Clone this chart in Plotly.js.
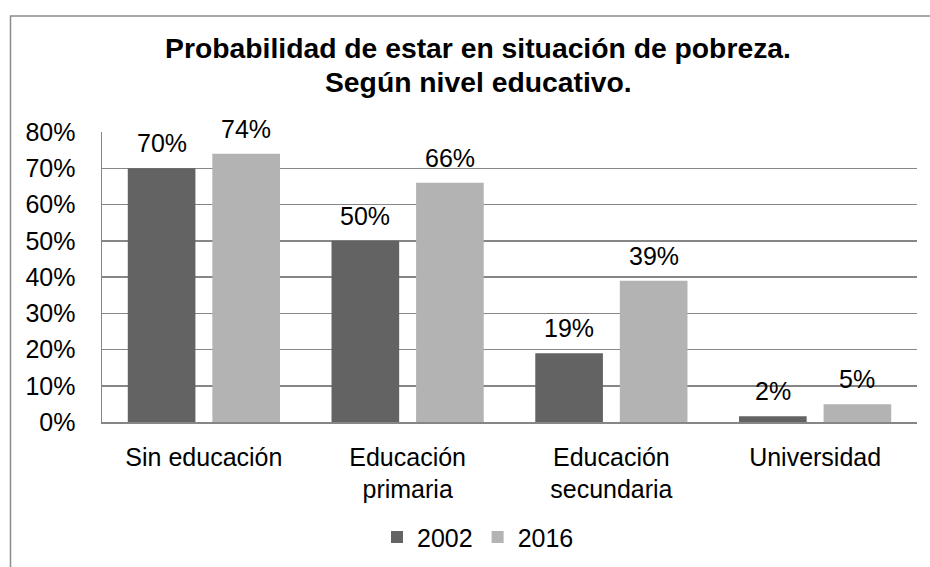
<!DOCTYPE html>
<html>
<head>
<meta charset="utf-8">
<script src="https://cdn.plot.ly/plotly-3.0.1.min.js"></script>
<style>
html,body{margin:0;padding:0;background:#fff;}
#chart{width:930px;height:567px;}
</style>
</head>
<body>
<div id="chart"></div>
<script>
const categories = ['Sin educación', 'Educación<br>primaria', 'Educación<br>secundaria', 'Universidad'];
const series2002 = [0.70, 0.50, 0.19, 0.016];
const series2016 = [0.74, 0.66, 0.39, 0.049];
const seriesNames = ['2002', '2016'];
const yTickVals = [0, 0.1, 0.2, 0.3, 0.4, 0.5, 0.6, 0.7, 0.8];
const titleLine1 = 'Probabilidad de estar en situación de pobreza.';
const titleLine2 = 'Según nivel educativo.';

const FONT = '"Liberation Sans", Arial, sans-serif';
const W = 930, H = 567;
const L = 102, R = 13, T = 131.5, B = 145.3;
const pw = W - L - R, ph = H - T - B;
const px = X => (X - L) / pw;
const py = Y => 1 + (T - Y) / ph;

const BARGAP = 0.17;
// distance between the two bar centres inside a group, in pixels
const slotPx = (pw / categories.length) * (1 - BARGAP) / 2;

const data = [
  {type: 'bar', x: categories, y: series2002, name: seriesNames[0], marker: {color: '#636363'}, hoverinfo: 'skip'},
  {type: 'bar', x: categories, y: series2016, name: seriesNames[1], marker: {color: '#b3b3b3'}, hoverinfo: 'skip'}
];

const labelAnnotations = [];
[series2002, series2016].forEach((ser, si) => {
  ser.forEach((v, i) => {
    labelAnnotations.push({
      xref: 'x', yref: 'y',
      x: categories[i], y: v,
      text: Math.round(v * 100) + '%',
      xshift: (si === 0 ? -1 : 1) * slotPx / 2,
      yshift: 9,
      xanchor: 'center', yanchor: 'bottom',
      showarrow: false,
      font: {family: FONT, size: 25, color: '#000'}
    });
  });
});

const layout = {
  width: W, height: H,
  margin: {l: L, r: R, t: T, b: B, pad: 0, autoexpand: false},
  paper_bgcolor: '#fff', plot_bgcolor: '#fff',
  font: {family: FONT, size: 25, color: '#000'},
  title: {
    text: titleLine1,
    font: {family: FONT, size: 28.3, color: '#000', weight: 'bold'},
    x: 478 / W, xanchor: 'center', xref: 'container',
    y: 1 - 48 / H, yanchor: 'middle', yref: 'container'
  },
  annotations: [{
    text: '<b>' + titleLine2 + '</b>',
    font: {family: FONT, size: 28.3, color: '#000'},
    xref: 'paper', yref: 'paper',
    x: px(478), y: py(81.5), xanchor: 'center', yanchor: 'middle',
    showarrow: false
  }].concat(labelAnnotations),
  barmode: 'group',
  bargap: BARGAP,
  bargroupgap: 0.2,
  xaxis: {
    type: 'category',
    showgrid: false,
    showline: true, linecolor: '#868686', linewidth: 1.5,
    ticks: '',
    tickfont: {family: FONT, size: 25, color: '#000'},
    ticklabelstandoff: 12,
    automargin: false,
    fixedrange: true
  },
  yaxis: {
    range: [0, 0.8],
    tickvals: yTickVals,
    tickformat: '.0%',
    showgrid: true, gridcolor: '#868686', gridwidth: 1.5,
    showline: true, linecolor: '#868686', linewidth: 1.5,
    zeroline: false,
    ticks: '',
    tickfont: {family: FONT, size: 25, color: '#000'},
    ticklabelstandoff: 20,
    automargin: false,
    fixedrange: true
  },
  showlegend: true,
  legend: {
    orientation: 'h',
    x: px(478), xanchor: 'center',
    y: py(537), yanchor: 'middle',
    font: {family: FONT, size: 25, color: '#000'},
    itemwidth: 30,
    bgcolor: 'rgba(0,0,0,0)'
  },
  shapes: [{
    type: 'rect', xref: 'paper', yref: 'paper',
    x0: px(10.5), x1: px(960), y0: py(600), y1: py(15.5),
    line: {color: '#8c8c8c', width: 1.5},
    fillcolor: 'rgba(0,0,0,0)', layer: 'below'
  }]
};

Plotly.newPlot('chart', data, layout, {staticPlot: true, displayModeBar: false});
</script>
</body>
</html>
